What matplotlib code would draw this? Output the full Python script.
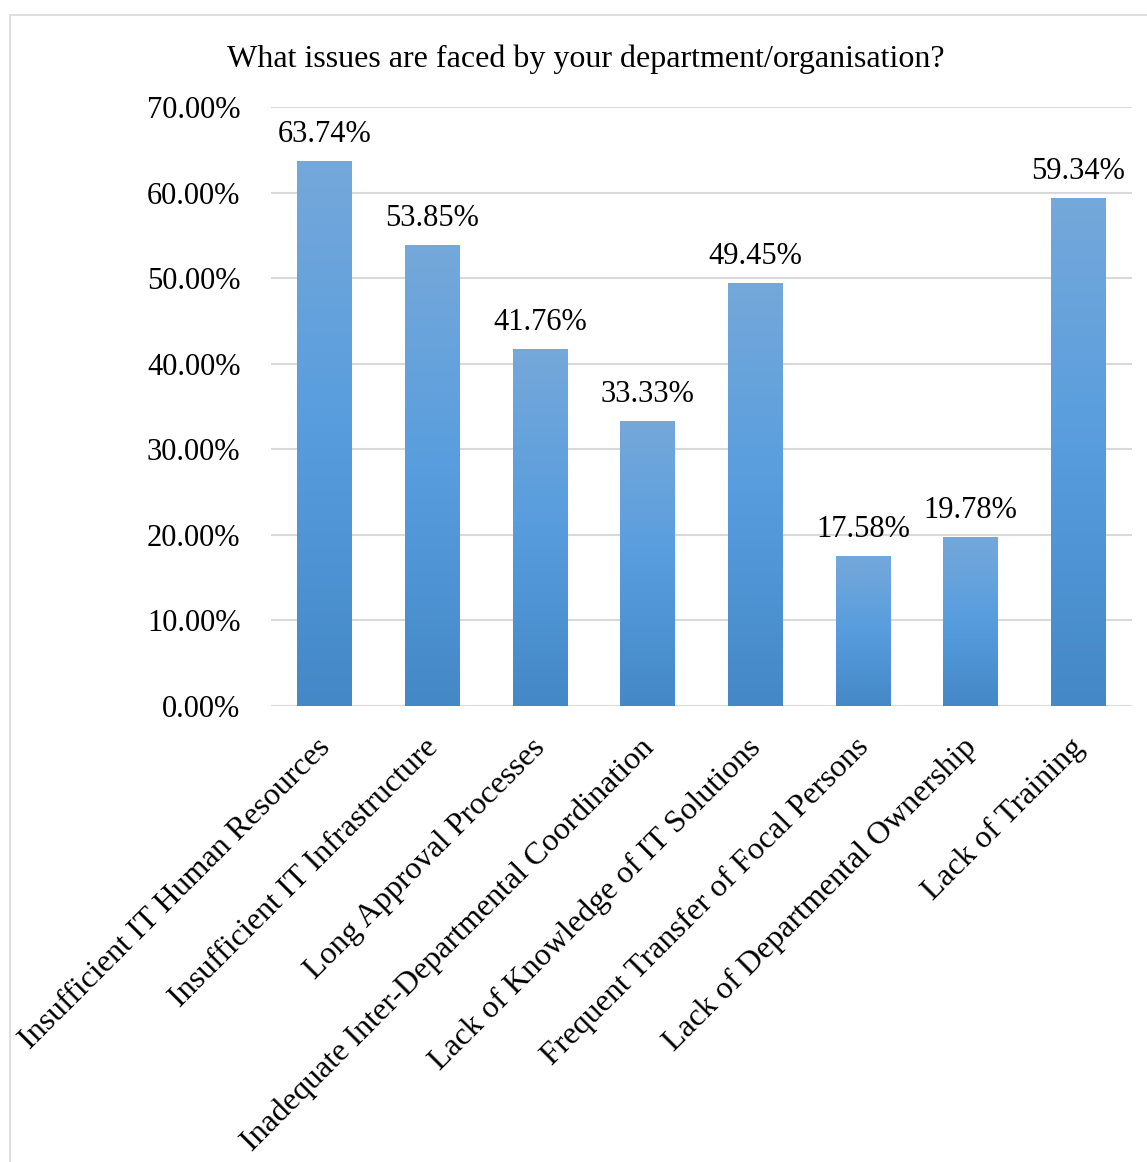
import numpy as np
import matplotlib
matplotlib.use('Agg')
import matplotlib.pyplot as plt
import matplotlib.transforms as mtransforms
from matplotlib.patches import Rectangle
from matplotlib.colors import LinearSegmentedColormap

categories = ['Insufficient IT Human Resources', 'Insufficient IT Infrastructure',
              'Long Approval Processes', 'Inadequate Inter-Departmental Coordination',
              'Lack of Knowledge of IT Solutions', 'Frequent Transfer of Focal Persons',
              'Lack of Departmental Ownership', 'Lack of Training']
values = [63.74, 53.85, 41.76, 33.33, 49.45, 17.58, 19.78, 59.34]
yticks = [0, 10, 20, 30, 40, 50, 60, 70]

plt.rcParams['font.family'] = ['Liberation Serif', 'DejaVu Serif']

fig = plt.figure(figsize=(11.47, 11.62), dpi=100)
ax = fig.add_axes([0.2363, 0.3924, 0.7507, 0.5155])

# outer chart border (runs off the right and bottom edge)
fig.patches.append(Rectangle((0.0087, -0.1), 1.2, 0.987 + 0.1, transform=fig.transFigure,
                             fill=False, edgecolor='#d9d9d9', lw=1.2))

x = np.arange(len(categories))
bars = ax.bar(x, values, width=0.51, color='#5b9bd5', zorder=2)

# vertical gradient: lighter top, darker bottom
cmap = LinearSegmentedColormap.from_list('bar', ['#4488c6', '#579dde', '#75a8da'])
grad = np.linspace(0, 1, 256).reshape(-1, 1)
for b in bars:
    bx, by = b.get_x(), b.get_y()
    w, h = b.get_width(), b.get_height()
    im = ax.imshow(grad, extent=[bx, bx + w, by, by + h], origin='lower',
                   cmap=cmap, aspect='auto', zorder=3)
    im.set_clip_path(b)

for xi, v in zip(x, values):
    ax.annotate(f'{v:.2f}%', (xi, v), xytext=(0, 8.5), textcoords='offset points',
                ha='center', va='bottom', fontsize=22)

ax.set_xlim(-0.5, len(categories) - 0.5)
ax.set_ylim(0, 70)
ax.set_yticks(yticks)
ax.set_yticklabels([f'{t:.2f}%' for t in yticks], fontsize=22)
ax.yaxis.grid(True, color='#d9d9d9', lw=1.5, zorder=0)
ax.set_axisbelow(True)
ax.tick_params(axis='y', length=0, pad=22)
ax.tick_params(axis='x', length=0, pad=10)
for s in ax.spines.values():
    s.set_visible(False)

ax.set_xticks(x)
ax.set_xticklabels(categories, rotation=45, ha='right', va='top',
                   rotation_mode='anchor', fontsize=23)
shift = mtransforms.ScaledTranslation(-0.09, -0.13, fig.dpi_scale_trans)
for lbl in ax.get_xticklabels():
    lbl.set_transform(lbl.get_transform() + shift)

fig.text(0.511, 0.9493, 'What issues are faced by your department/organisation?',
         ha='center', va='center', fontsize=23)

fig.savefig('out.png', dpi=100)
